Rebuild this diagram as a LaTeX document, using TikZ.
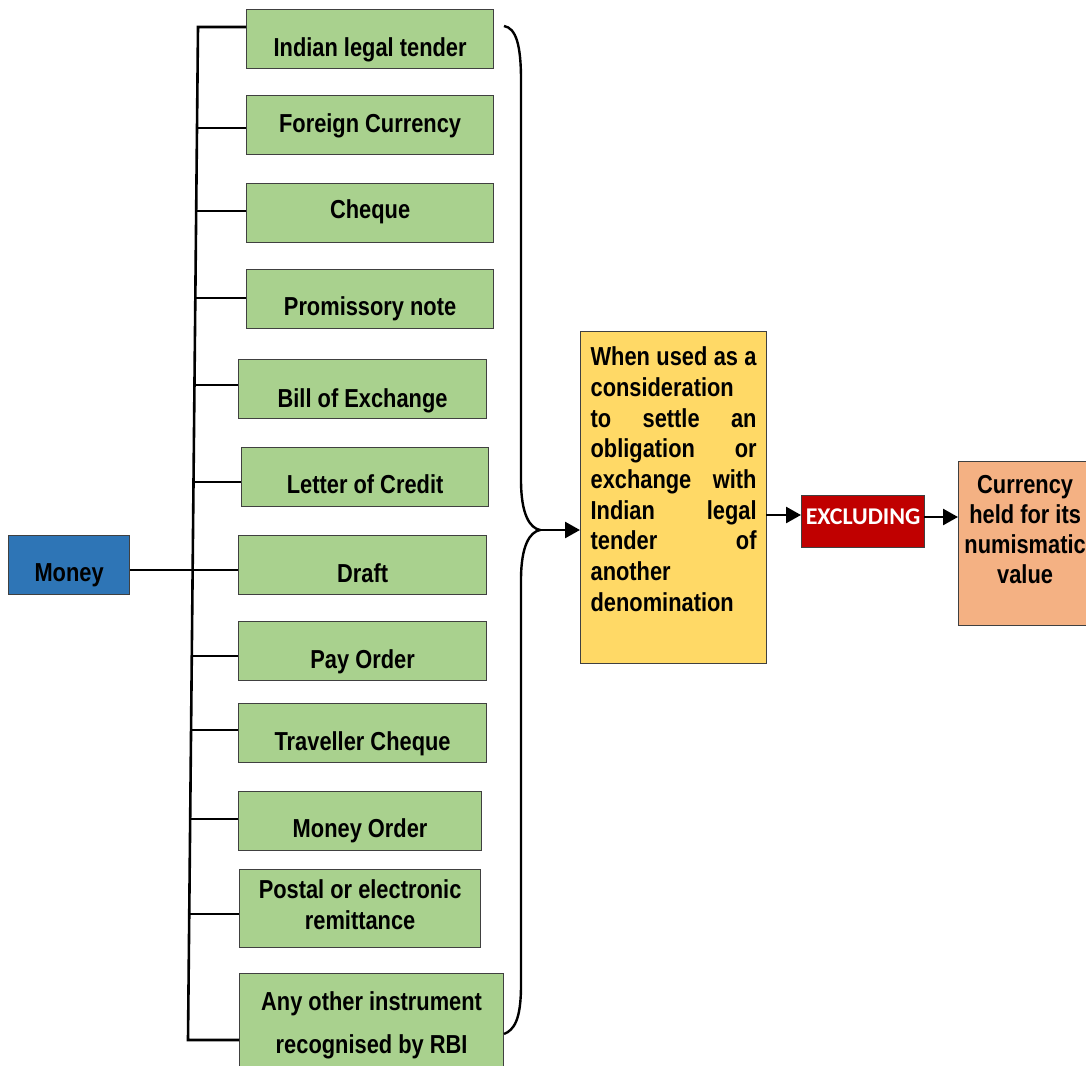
\documentclass[tikz,border=0pt]{standalone}
\usepackage{fontspec}
\usetikzlibrary{arrows.meta,calc}
\newfontfamily\nar{Liberation Sans}[FakeStretch=0.84]
\newfontfamily\calfont{Carlito}
\definecolor{grn}{HTML}{A9D18E}
\definecolor{blu}{HTML}{2E75B6}
\definecolor{yel}{HTML}{FFD966}
\definecolor{redx}{HTML}{C00000}
\definecolor{orn}{HTML}{F4B183}
\begin{document}
\begin{tikzpicture}[x=1pt,y=-1pt,
  box/.style={draw=black!75, line width=1.2pt, inner xsep=0pt, inner ysep=0pt,
    anchor=north west, align=flush center, font=\nar\bfseries\fontsize{26}{31}\selectfont},
  gbox/.style={box, fill=grn},
  conn/.style={line width=2.6pt, black},
  arr/.style={conn, -{Triangle[length=15pt,width=16pt]}}]
\useasboundingbox (0,0) rectangle (1086,1065);

% green boxes
\node[gbox, text width=247pt, text height=47pt, text depth=12pt] (n1) at (246,9) {Indian legal tender};
\node[gbox, text width=247pt, text height=37pt, text depth=22pt] (n2) at (246,95) {Foreign Currency};
\node[gbox, text width=247pt, text height=35pt, text depth=24pt] (n3) at (246,183) {Cheque};
\node[gbox, text width=247pt, text height=46pt, text depth=13pt] (n4) at (246,269) {Promissory note};
\node[gbox, text width=248pt, text height=48pt, text depth=11pt] (n5) at (238,359) {Bill of Exchange};
\node[gbox, text width=247pt, text height=46pt, text depth=13pt] (n6) at (241,447) {Letter of Credit};
\node[gbox, text width=248pt, text height=47pt, text depth=12pt] (n7) at (238,535) {Draft};
\node[gbox, text width=248pt, text height=47pt, text depth=12pt] (n8) at (238,621) {Pay Order};
\node[gbox, text width=248pt, text height=47pt, text depth=12pt] (n9) at (238,703) {Traveller Cheque};
\node[gbox, text width=243pt, text height=46pt, text depth=13pt] (n10) at (238,791) {Money Order};
\node[gbox, text width=241pt, text height=29pt, text depth=49pt] (n11) at (239,869) {Postal or electronic\\remittance};
\node[gbox, text width=264pt, text height=37pt, text depth=100pt] (n12) at (239,973) {Any other instrument\\[12pt]recognised by RBI};

% money
\node[box, fill=blu, text width=121pt, text height=46pt, text depth=13pt] (money) at (8,535) {Money};

% yellow
\node[box, fill=yel, align=flush left, inner xsep=10pt, text width=166pt, text height=34pt, text depth=298pt,
  font=\nar\bfseries\fontsize{26}{30.7}\selectfont] (cond) at (580,331)
  {When\hfill used\hfill as\hfill a\\consideration\\to\hfill settle\hfill an\\obligation\hfill or\\exchange\hfill with\\Indian\hfill legal\\tender\hfill of\\another\\denomination};

% excluding
\node[box, fill=redx, text=white, text width=123pt, text height=29pt, text depth=23pt,
  font=\calfont\bfseries\fontsize{24}{28}\selectfont] (excl) at (801,495) {EXCLUDING};

% orange
\node[box, fill=orn, text width=133pt, text height=32pt, text depth=132pt,
  font=\nar\bfseries\fontsize{26}{30}\selectfont] (cur) at (958,461) {Currency\\held for its\\numismatic\\value};

% trunk
\coordinate (ttop) at (198,27);
\coordinate (tbot) at (188,1040);
\path (ttop) -- (tbot)
  coordinate[pos=0.0997] (b2) coordinate[pos=0.1816] (b3) coordinate[pos=0.2675] (b4)
  coordinate[pos=0.3534] (b5) coordinate[pos=0.4492] (b6) coordinate[pos=0.536] (b7)
  coordinate[pos=0.621] (b8) coordinate[pos=0.694] (b9) coordinate[pos=0.782] (b10)
  coordinate[pos=0.8756] (b11);
\draw[conn] (ttop -| n1.west) -- (ttop) -- (tbot) -- (tbot -| n12.west);
\foreach \i in {2,...,11} {\draw[conn] (b\i) -- (b\i -| n\i.west);}
\draw[conn] (b7 -| money.east) -- (b7);

% brace
\coordinate (tip) at (540,530);
\draw[conn, line width=2.4pt] (504,26) .. controls (516,28) and (521,45) .. (521,80) -- (521,480)
  .. controls (521,515) and (530,528) .. (tip)
  .. controls (530,532) and (521,545) .. (521,580) -- (521,985)
  .. controls (521,1020) and (514,1030) .. (504,1034);

% arrows
\draw[arr] (tip) -- (tip -| cond.west);
\coordinate (a2) at (766,515);
\draw[arr] (a2) -- (a2 -| excl.west);
\coordinate (a3) at (924,517);
\draw[arr] (a3) -- (a3 -| cur.west);
\end{tikzpicture}
\end{document}
